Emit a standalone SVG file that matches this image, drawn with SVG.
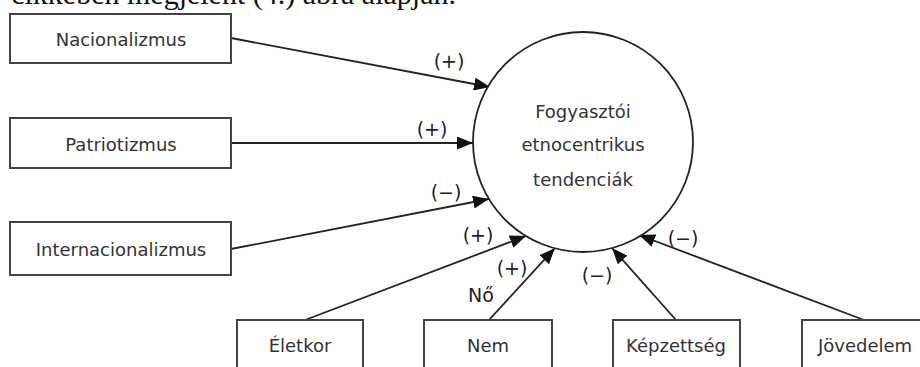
<svg xmlns="http://www.w3.org/2000/svg" width="920" height="367" viewBox="0 0 920 367">
<style>
.box{fill:#fff;stroke:#444;stroke-width:2}
.lbl{font-family:"DejaVu Sans","Verdana",sans-serif;font-size:18px;fill:#333;text-anchor:middle;dominant-baseline:central}
.sign{font-family:"DejaVu Sans","Verdana",sans-serif;font-size:19px;fill:#222;text-anchor:middle;dominant-baseline:central}
.conn{stroke:#222;stroke-width:1.8;fill:none;marker-end:url(#ah)}
</style>
<defs>
<marker id="ah" markerUnits="userSpaceOnUse" markerWidth="17" markerHeight="13" refX="16" refY="6.5" orient="auto">
<path d="M0,0 L16,6.5 L0,13 z" fill="#111"/>
</marker>
</defs>
<rect width="920" height="367" fill="#fff"/>
<text x="456" y="3.5" font-family="Liberation Serif,serif" font-size="30" fill="#111" text-anchor="end">cikkében megjelent (4.) ábra alapján.</text>

<g id="connectors">
<line class="conn" x1="231" y1="38" x2="490" y2="87"/>
<line class="conn" x1="231" y1="143" x2="473" y2="143"/>
<line class="conn" x1="231" y1="249" x2="489" y2="199"/>
<line class="conn" x1="305" y1="320" x2="526" y2="236"/>
<line class="conn" x1="489" y1="320" x2="555" y2="248"/>
<line class="conn" x1="676" y1="320" x2="612" y2="248"/>
<line class="conn" x1="864" y1="320" x2="639" y2="235"/>
<text class="sign" x="449" y="61">(+)</text>
<text class="sign" x="432" y="129">(+)</text>
<text class="sign" x="446" y="192">(−)</text>
<text class="sign" x="478" y="235">(+)</text>
<text class="sign" x="512" y="268">(+)</text>
<text class="sign" x="481" y="295">Nő</text>
<text class="sign" x="597" y="275">(−)</text>
<text class="sign" x="683" y="238">(−)</text>
</g>

<g id="center">
<circle cx="583" cy="142" r="110" fill="#fff" stroke="#222" stroke-width="1.8"/>
<text class="lbl" x="583" y="111">Fogyasztói</text>
<text class="lbl" x="583" y="144">etnocentrikus</text>
<text class="lbl" x="583" y="179">tendenciák</text>
</g>

<g id="nacionalizmus">
<rect class="box" x="10" y="14" width="221" height="49"/>
<text class="lbl" x="121" y="39">Nacionalizmus</text>
</g>
<g id="patriotizmus">
<rect class="box" x="10" y="118" width="221" height="50"/>
<text class="lbl" x="121" y="144">Patriotizmus</text>
</g>
<g id="internacionalizmus">
<rect class="box" x="10" y="222" width="221" height="53"/>
<text class="lbl" x="121" y="249">Internacionalizmus</text>
</g>
<g id="eletkor">
<rect class="box" x="237" y="320" width="126" height="60"/>
<text class="lbl" x="300" y="345">Életkor</text>
</g>
<g id="nem">
<rect class="box" x="424" y="320" width="128" height="60"/>
<text class="lbl" x="488" y="345">Nem</text>
</g>
<g id="kepzettseg">
<rect class="box" x="613" y="320" width="127" height="60"/>
<text class="lbl" x="676" y="345">Képzettség</text>
</g>
<g id="jovedelem">
<rect class="box" x="802" y="320" width="126" height="60"/>
<text class="lbl" x="865" y="345">Jövedelem</text>
</g>
</svg>
